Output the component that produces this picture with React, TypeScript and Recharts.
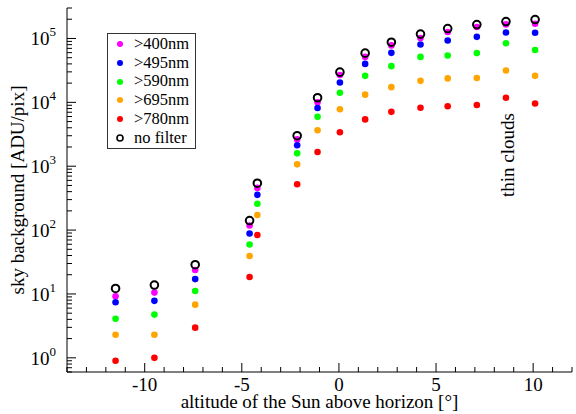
import { ScatterChart, Scatter, XAxis, YAxis, Legend, Label } from "recharts";

// sun altitude (deg) of each exposure series
const altitude = [-11.5, -9.5, -7.4, -4.6, -4.2, -2.15, -1.1, 0.05, 1.35, 2.7, 4.2, 5.6, 7.1, 8.6, 10.1];

// sky background in ADU/pix per filter
const nm400 = [9.2, 10.5, 23.7, 118, 458, 2630, 10000, 26800, 51500, 77900, 102000, 126000, 151000, 166000, 170000];
const nm495 = [7.4, 7.8, 17.1, 88.5, 356, 2130, 8150, 20500, 40000, 59600, 80600, 93000, 106000, 124000, 123000];
const nm590 = [4.1, 4.75, 11.1, 59.6, 258, 1590, 5960, 14100, 26000, 36900, 51500, 54000, 59000, 84000, 66000];
const nm695 = [2.3, 2.3, 6.8, 39.3, 172, 1070, 3650, 7780, 13200, 17300, 21700, 23700, 24000, 31600, 26000];
const nm780 = [0.9, 1.0, 2.97, 18.4, 83.6, 522, 1670, 3400, 5410, 7100, 8230, 8680, 9100, 11800, 9600];
const noFilter = [12.2, 13.8, 28.7, 141, 542, 3006, 11800, 29700, 58900, 87500, 117000, 143000, 165000, 184000, 198000];

const seriesNames = [">400nm", ">495nm", ">590nm", ">695nm", ">780nm", "no filter"];
const seriesColors = ["#ff00ff", "#0000ff", "#00ff00", "#ffa500", "#ff0000", "#000000"];

const xMajorTicks = [-10, -5, 0, 5, 10];
const xAllTicks = [-14, -13, -12, -11, -10, -9, -8, -7, -6, -5, -4, -3, -2, -1, 0, 1, 2, 3, 4, 5, 6, 7, 8, 9, 10, 11, 12];
const yMajorTicks = [1, 10, 100, 1000, 10000, 100000];
const yMinorSteps = [2, 3, 4, 5, 6, 7, 8, 9];

const X_DOMAIN: [number, number] = [-14, 12];
const Y_DOMAIN: [number, number] = [0.6, 3e5];
const FONT = "'Liberation Serif', 'DejaVu Serif', serif";

const yAllTicks: number[] = [0.6, 0.7, 0.8, 0.9];
yMajorTicks.forEach((m) => {
  yAllTicks.push(m);
  yMinorSteps.forEach((s) => {
    if (m * s <= Y_DOMAIN[1]) yAllTicks.push(m * s);
  });
});

const seriesValues = [nm400, nm495, nm590, nm695, nm780, noFilter];
const seriesData = seriesValues.map((vals) => vals.map((v, i) => ({ x: altitude[i], y: v })));

const isYMajor = (v: number) => yMajorTicks.includes(v);

function BottomTick({ x, y, payload }: any) {
  const major = xMajorTicks.includes(payload.value);
  return (
    <g>
      <line x1={x} x2={x} y1={y} y2={y - (major ? 9 : 5)} stroke="#000" />
      {major && (
        <text x={x} y={y + 19} textAnchor="middle" fontSize={19} fontFamily={FONT} fill="#000">
          {payload.value}
        </text>
      )}
    </g>
  );
}

function TopTick({ x, y, payload }: any) {
  const major = xMajorTicks.includes(payload.value);
  return <line x1={x} x2={x} y1={y} y2={y + (major ? 9 : 5)} stroke="#000" />;
}

function LeftTick({ x, y, payload }: any) {
  const major = isYMajor(payload.value);
  const exp = Math.round(Math.log10(payload.value));
  return (
    <g>
      <line x1={x} x2={x + (major ? 9 : 5)} y1={y} y2={y} stroke="#000" />
      {major && (
        <text x={x - 11} y={y + 7} textAnchor="end" fontSize={19} fontFamily={FONT} fill="#000">
          10
          <tspan dy={-9} fontSize={13}>
            {exp}
          </tspan>
        </text>
      )}
    </g>
  );
}

function RightTick({ x, y, payload }: any) {
  const major = isYMajor(payload.value);
  return <line x1={x} x2={x - (major ? 9 : 5)} y1={y} y2={y} stroke="#000" />;
}

function YTitle({ viewBox }: any) {
  const cx = 17;
  const cy = viewBox.y + viewBox.height / 2;
  return (
    <text
      x={cx}
      y={cy}
      transform={`rotate(-90 ${cx} ${cy})`}
      textAnchor="middle"
      dominantBaseline="central"
      fontSize={19}
      fontFamily={FONT}
      fill="#000"
    >
      sky background [ADU/pix]
    </text>
  );
}

function LegendBox() {
  return (
    <div
      style={{
        border: "1px solid #333",
        padding: "1px 6px 1px 7px",
        background: "#fff",
        fontFamily: FONT,
        fontSize: 16.5,
        lineHeight: "18.7px",
      }}
    >
      {seriesNames.map((name, i) => (
        <div key={name} style={{ display: "flex", alignItems: "center" }}>
          <svg width={10} height={10} style={{ marginRight: 9 }}>
            {i === 5 ? (
              <circle cx={5} cy={5} r={3} fill="none" stroke="#000" strokeWidth={1.6} />
            ) : (
              <circle cx={5} cy={5} r={3} fill={seriesColors[i]} />
            )}
          </svg>
          <span style={{ fontFamily: FONT }}>{name}</span>
        </div>
      ))}
    </div>
  );
}

const filledDot = (color: string) => (p: any) => <circle cx={p.cx} cy={p.cy} r={3.3} fill={color} />;
const openDot = (p: any) => (
  <circle cx={p.cx} cy={p.cy} r={3.8} fill="none" stroke="#000" strokeWidth={2} />
);

export default function App() {
  return (
    <div style={{ position: "absolute", left: 0, top: 0, background: "#fff" }}>
      <ScatterChart width={576} height={414} margin={{ top: 8, right: 4, left: 0, bottom: 0 }}>
        <XAxis
          xAxisId={0}
          type="number"
          dataKey="x"
          domain={X_DOMAIN}
          allowDataOverflow
          ticks={xAllTicks}
          interval={0}
          tick={<BottomTick />}
          tickLine={false}
          tickSize={0}
          tickMargin={0}
          height={42}
          axisLine={{ stroke: "#000" }}
        >
          <Label
            value="altitude of the Sun above horizon [°]"
            position="insideBottom"
            offset={6}
            style={{ fontSize: 19, fontFamily: FONT, fill: "#000" }}
          />
        </XAxis>
        <XAxis
          xAxisId="top"
          orientation="top"
          type="number"
          dataKey="x"
          domain={X_DOMAIN}
          allowDataOverflow
          ticks={xAllTicks}
          interval={0}
          tick={<TopTick />}
          tickLine={false}
          tickSize={0}
          tickMargin={0}
          height={0}
          axisLine={{ stroke: "#000" }}
        />
        <YAxis
          yAxisId={0}
          type="number"
          dataKey="y"
          scale="log"
          domain={Y_DOMAIN}
          allowDataOverflow
          ticks={yAllTicks}
          interval={0}
          tick={<LeftTick />}
          tickLine={false}
          tickSize={0}
          tickMargin={0}
          width={67}
          axisLine={{ stroke: "#000" }}
          label={<YTitle />}
        />
        <YAxis
          yAxisId="right"
          orientation="right"
          type="number"
          dataKey="y"
          scale="log"
          domain={Y_DOMAIN}
          allowDataOverflow
          ticks={yAllTicks}
          interval={0}
          tick={<RightTick />}
          tickLine={false}
          tickSize={0}
          tickMargin={0}
          width={0}
          axisLine={{ stroke: "#000" }}
        />
        <Legend
          layout="vertical"
          align="center"
          verticalAlign="middle"
          content={<LegendBox />}
          wrapperStyle={{ left: 107, top: 33, width: "auto", height: "auto" }}
        />
        {seriesData.map((d, i) => (
          <Scatter
            key={seriesNames[i]}
            name={seriesNames[i]}
            data={d}
            xAxisId={0}
            yAxisId={0}
            fill={seriesColors[i]}
            shape={i === 5 ? openDot : filledDot(seriesColors[i])}
            isAnimationActive={false}
          />
        ))}
      </ScatterChart>
      <div
        style={{
          position: "absolute",
          left: 508,
          top: 155,
          transform: "translate(-50%, -50%) rotate(-90deg)",
          fontFamily: FONT,
          fontSize: 19,
          whiteSpace: "nowrap",
        }}
      >
        thin clouds
      </div>
    </div>
  );
}
